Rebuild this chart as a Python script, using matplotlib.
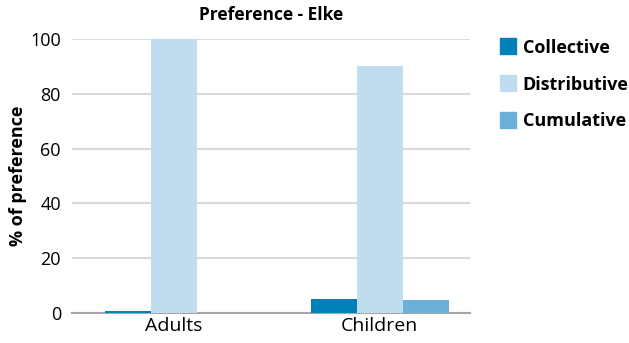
import matplotlib.pyplot as plt
import numpy as np
from matplotlib.lines import Line2D

plt.rcParams['font.family'] = ['Open Sans', 'DejaVu Sans']

groups = ["Adults", "Children"]
series = ["Collective", "Distributive", "Cumulative"]
collective = [0.8, 5.0]
distributive = [100, 90]
cumulative = [0, 4.7]
colors = ["#0081b9", "#c0dcef", "#6ab0d8"]

fig = plt.figure(figsize=(6.29, 3.43), dpi=100)
ax = fig.add_axes([0.1145, 0.0875, 0.6325, 0.7985])

x = np.arange(len(groups))
w = 0.223
for i, (vals, c) in enumerate(zip([collective, distributive, cumulative], colors)):
    ax.bar(x + (i - 1) * w, vals, width=w, color=c, zorder=3)

ax.set_xlim(-0.495, 1.437)
ax.set_ylim(0, 100)
ax.set_yticks(range(0, 101, 20))
ax.set_xticks(x)
ax.set_xticklabels(groups, fontsize=14)
ax.tick_params(axis='y', length=0, pad=8, labelsize=13)
ax.tick_params(axis='x', length=0, pad=3)
ax.grid(axis='y', color="#d9d9d9", linewidth=1.5, zorder=0)
for s in ["top", "right", "left"]:
    ax.spines[s].set_visible(False)
ax.spines["bottom"].set_color("#a6a6a6")
ax.spines["bottom"].set_linewidth(1.5)
ax.spines["bottom"].set_zorder(2)

ax.set_title("Preference - Elke", fontsize=12.5, fontweight='bold', pad=14)
ax.set_ylabel("% of preference", fontsize=13, fontweight='bold', labelpad=2)

handles = [Line2D([], [], marker='s', linestyle='none', markersize=12,
                  markerfacecolor=c, markeredgecolor=c) for c in colors]
fig.legend(handles, series, loc='upper left', bbox_to_anchor=(0.765, 0.935),
           frameon=False, prop={'weight': 'bold', 'size': 13},
           handletextpad=0.2, labelspacing=1.05, handlelength=1.2)

fig.savefig("out.png", dpi=100)
